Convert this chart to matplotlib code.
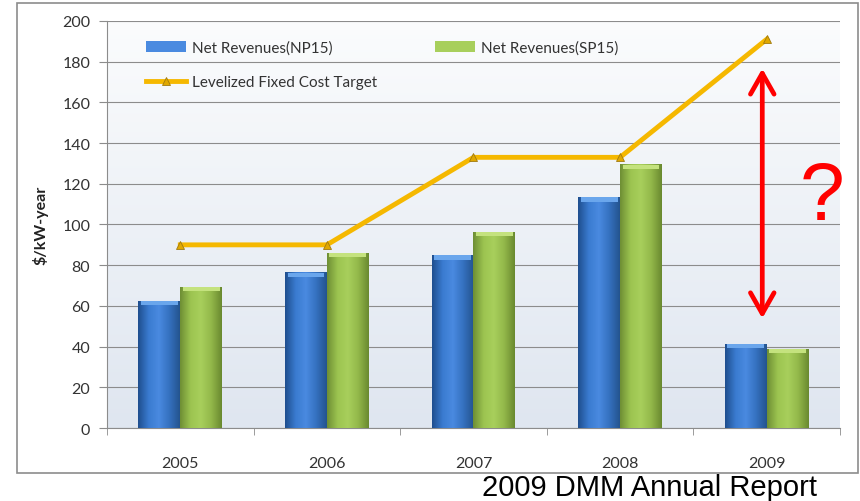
import matplotlib

matplotlib.use("Agg")
import matplotlib.pyplot as plt
import numpy as np
from matplotlib.colors import LinearSegmentedColormap
from matplotlib.patches import Rectangle

# data
years = ["2005", "2006", "2007", "2008", "2009"]
np15 = [62.5, 76.5, 85, 113.5, 41.5]
sp15 = [69.5, 86, 96.5, 129.5, 39]
fixed_cost_target = [90, 90, 133, 133, 191]
y_ticks = [0, 20, 40, 60, 80, 100, 120, 140, 160, 180, 200]

plt.rcParams["font.family"] = ["Lato", "DejaVu Sans"]

fig = plt.figure(figsize=(8.6, 5.02), dpi=100)
ax = fig.add_axes([0.1244, 0.1454, 0.8523, 0.8108])

x = np.arange(len(years))
w = 1 / 3.5

# plot area background gradient
bg = LinearSegmentedColormap.from_list("bg", ["#dfe6f0", "#fbfcfd"])
ax.imshow(np.linspace(0, 1, 256).reshape(-1, 1), cmap=bg, origin="lower",
          extent=(-0.5, 4.5, 0, 200), aspect="auto", zorder=0)

blue_grad = LinearSegmentedColormap.from_list(
    "b", ["#1f4f8f", "#3a7bd0", "#4a8ae0", "#3571c0", "#24548f"])
green_grad = LinearSegmentedColormap.from_list(
    "g", ["#6f8f35", "#9cc450", "#a8cf5c", "#93b84a", "#6a8a30"])


def shaded_bars(xs, vals, cmap, label, top_color):
    bars = ax.bar(xs, vals, w, color=cmap(0.5), edgecolor="none", zorder=3, label=label)
    for b in bars:
        bx, bw, bh = b.get_x(), b.get_width(), b.get_height()
        im = ax.imshow(np.linspace(0, 1, 64).reshape(1, -1), cmap=cmap,
                       extent=(bx, bx + bw, 0, bh), aspect="auto", zorder=3)
        im.set_clip_path(b)
        # bevel on top
        ax.add_patch(Rectangle((bx + bw * 0.06, bh - 2.2), bw * 0.88, 2.0,
                               color=top_color, lw=0, zorder=4))
    return bars


bars_np = shaded_bars(x - w / 2, np15, blue_grad, "Net Revenues(NP15)", "#6aa6ec")
bars_sp = shaded_bars(x + w / 2, sp15, green_grad, "Net Revenues(SP15)", "#c4e27e")

line, = ax.plot(x, fixed_cost_target, color="#f5b800", lw=3.5, marker="^",
                markersize=6, markerfacecolor="#e0a800", markeredgecolor="#a07a10",
                markeredgewidth=0.6, zorder=5, label="Levelized Fixed Cost Target")

ax.set_xlim(-0.5, 4.5)
ax.set_ylim(0, 200)
ax.set_yticks(y_ticks)
ax.set_xticks(x)
ax.set_xticklabels(years)
ax.set_xticks(np.arange(-0.5, 5, 1), minor=True)
ax.tick_params(axis="x", which="major", length=0, pad=20, labelsize=11.5, colors="#333333")
ax.tick_params(axis="x", which="minor", length=5, color="#8c8c8c")
ax.tick_params(axis="y", length=6, color="#8c8c8c", labelsize=11.5, labelcolor="#333333", pad=6)
ax.grid(axis="y", color="#8c8c8c", lw=0.8, zorder=1)
ax.set_axisbelow(False)
for s in ["top", "right"]:
    ax.spines[s].set_visible(False)
for s in ["left", "bottom"]:
    ax.spines[s].set_color("#8c8c8c")
ax.set_ylabel("$/kW-year", fontsize=11.5, fontweight="bold", color="#222222", labelpad=10)

# legend: two columns, line entry under NP15
leg = ax.legend([bars_np, line, bars_sp],
                ["Net Revenues(NP15)", "Levelized Fixed Cost Target", "Net Revenues(SP15)"],
                ncol=2, frameon=False, loc="upper left", bbox_to_anchor=(0.035, 0.985),
                fontsize=11, handlelength=2.6, handletextpad=0.4, labelspacing=1.3,
                columnspacing=3.8)
for t in leg.get_texts():
    t.set_color("#333333")

# red double arrow and question mark
arrow_top = fixed_cost_target[-1] - 13
arrow_bottom = np15[-1] + 11
ax.annotate("", xy=(3.97, arrow_top), xytext=(3.97, arrow_bottom),
            arrowprops=dict(arrowstyle="<->,head_length=1.5,head_width=0.85",
                            color="#ff0000", lw=3.4), zorder=6)
ax.text(4.38, 113, "?", color="#ff0000", fontsize=58, family="Liberation Sans",
        ha="center", va="center", zorder=6)

# outer frame
fig.patches.append(Rectangle((17 / 860, 1 - 474 / 502), 841 / 860, 470 / 502,
                             transform=fig.transFigure, fill=False,
                             edgecolor="#8c8c8c", lw=1.2))

fig.text(650 / 860, 1 - 488 / 502, "2009 DMM Annual Report", fontsize=21,
         family="Liberation Sans", ha="center", va="center", color="black")

fig.savefig("out.png", dpi=100)
